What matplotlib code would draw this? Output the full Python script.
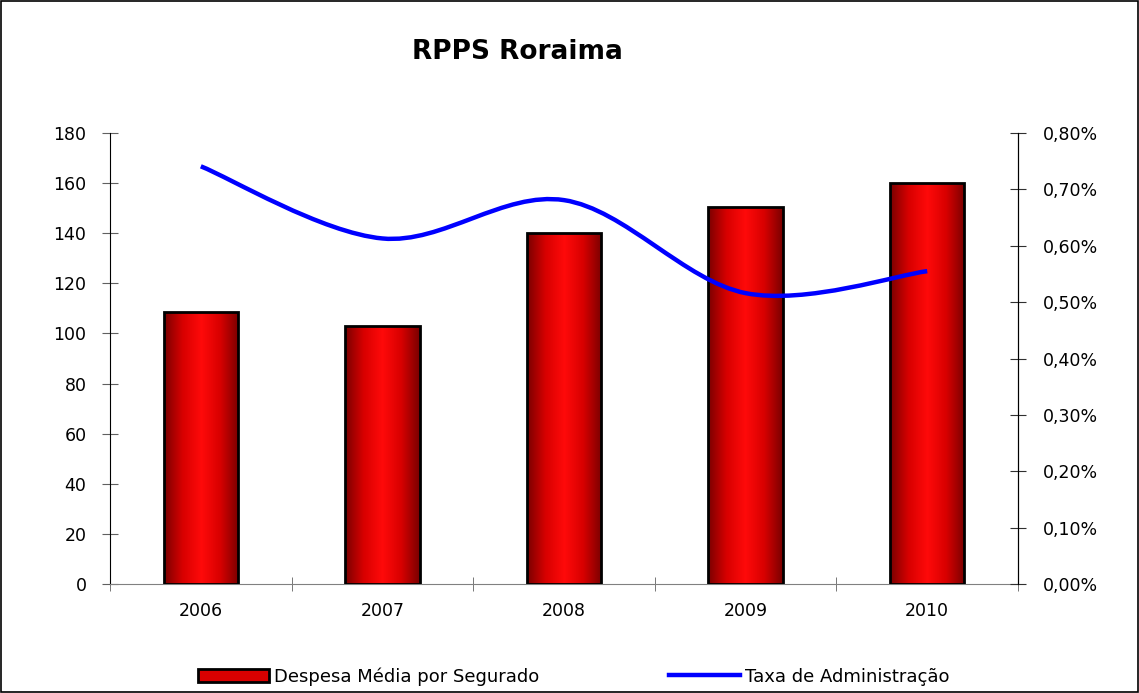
import numpy as np
import matplotlib
matplotlib.use('Agg')
import matplotlib.pyplot as plt
from matplotlib.path import Path
from matplotlib.patches import PathPatch, Rectangle
from matplotlib.lines import Line2D
from matplotlib.colors import LinearSegmentedColormap
from matplotlib.ticker import FuncFormatter

plt.rcParams['font.family'] = ['DejaVu Sans']

''' data '''
anos = ['2006', '2007', '2008', '2009', '2010']
despesa = [108.5, 103, 140, 150.5, 160]
taxa = [0.741, 0.613, 0.681, 0.516, 0.555]   # em %

fig = plt.figure(figsize=(11.39, 6.93), dpi=100)
fig.patches.append(Rectangle((0.001, 0.001), 0.998, 0.998, transform=fig.transFigure,
                             fill=False, edgecolor='black', linewidth=1.2))

ax = fig.add_axes([0.0966, 0.1573, 0.7972, 0.6507])
ax2 = ax.twinx()

x = np.arange(len(anos))
largura = 0.41

# barras com gradiente horizontal
cmap = LinearSegmentedColormap.from_list('verm', ['#7a0000', '#d80000', '#ff0a0a', '#d80000', '#7a0000'])
grad = np.linspace(0, 1, 256).reshape(1, -1)
bars = ax.bar(x, despesa, width=largura, color='none', edgecolor='black', linewidth=2, zorder=3)
for b in bars:
    x0, y0 = b.get_x(), b.get_y()
    w, h = b.get_width(), b.get_height()
    im = ax.imshow(grad, cmap=cmap, aspect='auto', extent=[x0, x0 + w, y0, y0 + h], zorder=2)
    im.set_clip_path(b)

ax.set_xlim(-0.5, 4.5)
ax.set_ylim(0, 180)
ax.set_yticks(range(0, 181, 20))
ax.set_xticks(x)
ax.set_xticklabels(anos)

# linha suavizada (bezier de catmull-rom pelos pontos)
pts = np.column_stack([x, taxa])
verts = [tuple(pts[0])]
codes = [Path.MOVETO]
for i in range(len(pts) - 1):
    p0 = pts[i - 1] if i > 0 else pts[i]
    p1 = pts[i]
    p2 = pts[i + 1]
    p3 = pts[i + 2] if i + 2 < len(pts) else pts[i + 1]
    c1 = p1 + (p2 - p0) / 6.0
    c2 = p2 - (p3 - p1) / 6.0
    verts += [tuple(c1), tuple(c2), tuple(p2)]
    codes += [Path.CURVE4] * 3
ax2.add_patch(PathPatch(Path(verts, codes), facecolor='none', edgecolor='#0000ff',
                        linewidth=3.2, capstyle='butt', zorder=5))
ax2.set_ylim(0, 0.8)
ax2.set_yticks(np.arange(0, 0.81, 0.1))
ax2.yaxis.set_major_formatter(FuncFormatter(lambda v, p: ('%.2f%%' % v).replace('.', ',')))

# eixos
for a in (ax, ax2):
    a.spines['top'].set_visible(False)
ax.spines['left'].set_color('black')
ax.spines['bottom'].set_color('#808080')
ax2.spines['left'].set_visible(False)
ax2.spines['bottom'].set_visible(False)
ax2.spines['right'].set_color('black')
ax.tick_params(axis='y', direction='inout', length=12, color='#606060', labelsize=12.5, pad=11)
ax.tick_params(axis='x', which='major', length=0, labelsize=12.5, pad=13)
ax.set_xticks(np.arange(-0.5, 4.6, 1), minor=True)
ax.tick_params(axis='x', which='minor', direction='inout', length=10, color='#606060')
ax2.tick_params(axis='y', direction='inout', length=12, color='#303030', labelsize=12.5, pad=12)

fig.text(0.454, 0.925, 'RPPS Roraima', ha='center', va='center', fontsize=19, fontweight='bold')

h1 = Rectangle((0, 0), 1, 1, facecolor='#d80000', edgecolor='black', linewidth=2)
h2 = Line2D([0], [0], color='#0000ff', linewidth=3.2)
fig.legend([h1, h2], ['Despesa Média por Segurado', 'Taxa de Administração'],
           loc='center', bbox_to_anchor=(0.504, 0.024), ncol=2, frameon=False,
           fontsize=13, handlelength=3.9, handleheight=0.75, handletextpad=0.3,
           columnspacing=7.2, borderpad=0, borderaxespad=0)

fig.savefig('out.png', dpi=100)
